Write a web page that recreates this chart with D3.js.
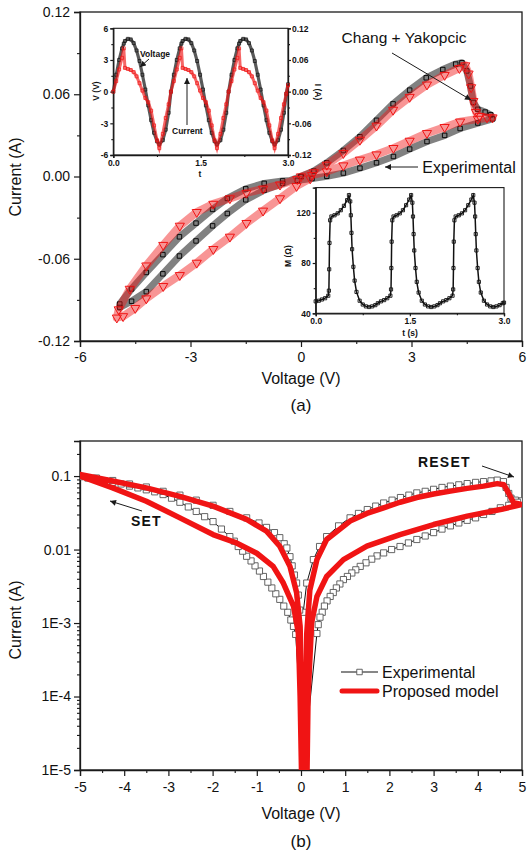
<!DOCTYPE html>
<html><head><meta charset="utf-8">
<script src="https://cdn.jsdelivr.net/npm/d3@7"></script>
<style>body{margin:0;background:#fff}svg text{font-family:"Liberation Sans",Arial,sans-serif}</style>
</head><body><svg id="c" width="530" height="852"></svg>
<script>
// ---------------- DATA ----------------
// (a) main I-V loops  [voltage V, current A]
const expLoopA = [
 [0,0],[0.35,0.004],[0.7,0.010],[1.15,0.019],[1.6,0.029],[2.05,0.041],[2.5,0.053],[2.95,0.063],[3.4,0.072],[3.85,0.078],[4.2,0.082],[4.37,0.083],
 [4.5,0.077],[4.6,0.066],[4.68,0.054],[4.8,0.049],[5.0,0.047],[5.15,0.045],[5.2,0.042],
 [4.8,0.039],[4.32,0.035],[3.9,0.030],[3.42,0.0255],[2.95,0.020],[2.51,0.0146],[2.05,0.010],[1.6,0.0061],[1.15,0.0025],[0.7,0.0002],[0.3,-0.0015],
 [-0.1,-0.0028],[-0.5,-0.0032],[-1.0,-0.005],[-1.5,-0.009],[-2.0,-0.016],[-2.4,-0.024],[-2.85,-0.034],[-3.3,-0.044],[-3.75,-0.057],[-4.2,-0.070],[-4.6,-0.082],[-4.92,-0.093],
 [-4.92,-0.0955],[-4.6,-0.091],[-4.2,-0.084],[-3.75,-0.071],[-3.3,-0.058],[-2.85,-0.047],[-2.4,-0.036],[-2.0,-0.027],[-1.5,-0.017],[-1.0,-0.010],[-0.5,-0.005],[0,0]
];
const modelLoopA = [
 [0,0],[0.35,0.003],[0.7,0.0085],[1.15,0.017],[1.6,0.0267],[2.05,0.037],[2.5,0.0486],[2.95,0.058],[3.42,0.067],[3.9,0.074],[4.3,0.079],[4.46,0.081],
 [4.55,0.075],[4.62,0.065],[4.68,0.055],[4.75,0.047],[4.85,0.044],[5.05,0.043],[5.2,0.043],
 [4.8,0.042],[4.32,0.040],[3.9,0.036],[3.42,0.0316],[2.95,0.026],[2.51,0.0207],[2.05,0.016],[1.6,0.0122],[1.15,0.008],[0.7,0.0036],[0.3,0.001],
 [-0.1,-0.002],[-0.57,-0.006],[-1.03,-0.009],[-1.48,-0.012],[-1.93,-0.016],[-2.38,-0.020],[-2.83,-0.026],[-3.29,-0.036],[-3.74,-0.050],[-4.2,-0.065],[-4.65,-0.082],[-4.95,-0.097],
 [-5.0,-0.103],[-4.83,-0.102],[-4.5,-0.096],[-4.2,-0.089],[-3.74,-0.080],[-3.29,-0.072],[-2.83,-0.063],[-2.38,-0.053],[-1.93,-0.044],[-1.48,-0.034],[-1.03,-0.025],[-0.57,-0.016],[-0.12,-0.007],[0.25,-0.0015]
];
// (a) inset 1: time (s), voltage (V), current (A)
const insetT = [0,0.05,0.1,0.15,0.18,0.2,0.25,0.3,0.35,0.4,0.45,0.5,0.55,0.6,0.65,0.7,0.75,0.79,0.85,0.9,0.95,
 0.99,1.04,1.09,1.14,1.17,1.19,1.24,1.29,1.34,1.39,1.44,1.49,1.54,1.59,1.64,1.69,1.74,1.78,1.84,1.89,1.94,
 1.98,2.03,2.08,2.13,2.16,2.18,2.23,2.28,2.33,2.38,2.43,2.48,2.53,2.58,2.63,2.68,2.73,2.77,2.83,2.88,2.93,2.97,3.0];
const insetVolt = [0,1.6,3.0,4.1,4.55,4.8,5.0,4.95,4.6,3.9,2.9,1.6,0.2,-1.3,-2.7,-3.9,-4.7,-5.0,-4.6,-3.6,-2.0,
 0,1.6,3.0,4.1,4.55,4.8,5.0,4.95,4.6,3.9,2.9,1.6,0.2,-1.3,-2.7,-3.9,-4.7,-5.0,-4.6,-3.6,-2.0,
 0,1.6,3.0,4.1,4.55,4.8,5.0,4.95,4.6,3.9,2.9,1.6,0.2,-1.3,-2.7,-3.9,-4.7,-5.0,-4.6,-3.6,-2.0,-0.2,0.7];
const insetCurr = [0,0.020,0.042,0.064,0.082,0.045,0.043,0.041,0.037,0.029,0.016,0.002,-0.012,-0.020,-0.036,-0.064,-0.092,-0.107,-0.080,-0.050,-0.024,
 0,0.020,0.042,0.064,0.082,0.045,0.043,0.041,0.037,0.029,0.016,0.002,-0.012,-0.020,-0.036,-0.064,-0.092,-0.107,-0.080,-0.050,-0.024,
 0,0.020,0.042,0.064,0.082,0.045,0.043,0.041,0.037,0.029,0.016,0.002,-0.012,-0.020,-0.036,-0.064,-0.092,-0.107,-0.080,-0.050,-0.024,-0.004,0.012];
// (a) inset 2: memristance M (Ohm) vs time
const memT = [0,0.05,0.10,0.15,0.20,0.21,0.215,0.22,0.23,0.25,0.30,0.35,0.40,0.45,0.50,0.53,0.55,0.56,0.57,0.58,0.60,0.62,0.65,0.70,0.75,0.80,0.85,0.90,0.95,
 0.99,1.04,1.09,1.14,1.19,1.20,1.205,1.21,1.22,1.24,1.29,1.34,1.39,1.44,1.49,1.52,1.54,1.55,1.56,1.57,1.59,1.61,1.64,1.69,1.74,1.79,1.84,1.89,1.94,
 1.98,2.03,2.08,2.13,2.18,2.19,2.195,2.20,2.21,2.23,2.28,2.33,2.38,2.43,2.48,2.51,2.53,2.54,2.55,2.56,2.58,2.60,2.63,2.68,2.73,2.78,2.83,2.88,2.93,2.98,3.0];
const memM = [49.5,50,51,52,54,58,75,96,114,117,118,119.5,122,125.5,130,134,129,118,104,91,77,66,57,50,47,45.5,45,45.5,46.5,
 48,49.5,50.5,52,54,59,76,97,114,117,118,119.5,122,126,130.5,134,128,117,103,90,76,65,56.5,50,47,45.5,45,45.5,46.5,
 48,49.5,50.5,52,54,59,76,97,114,117,118,119.5,122,126,130.5,134,128,117,103,90,76,65,56.5,50,47,45.5,45,45.5,46.5,48,48.5];
// (b) log-scale I-V  [voltage V, |current| A]
const expLoopB = [
 [0.05,1.4e-3],[0.13,3.5e-3],[0.28,7.3e-3],[0.42,0.011],[0.58,0.015],[0.85,0.021],[1.11,0.027],[1.3,0.031],[1.5,0.035],[1.69,0.039],[1.87,0.043],[2.06,0.047],[2.25,0.051],[2.44,0.055],[2.62,0.059],[2.81,0.062],[3.0,0.066],[3.19,0.07],[3.38,0.073],[3.57,0.076],[3.76,0.079],[3.95,0.082],[4.13,0.084],[4.3,0.086],[4.44,0.088],[4.58,0.084],[4.64,0.07],[4.7,0.058],[4.75,0.05],[4.85,0.047],[5.0,0.046],
 [4.9,0.044],[4.7,0.040],[4.51,0.037],[4.32,0.033],[4.13,0.030],[3.95,0.027],[3.76,0.025],[3.57,0.023],[3.38,0.021],[3.19,0.019],[3.0,0.017],[2.81,0.0153],[2.62,0.0137],[2.43,0.0123],[2.24,0.011],[2.05,0.010],[1.87,0.009],[1.72,0.0082],[1.6,0.0074],[1.47,0.0066],[1.34,0.0059],[1.24,0.0053],[1.15,0.0048],[1.05,0.0043],[0.96,0.0039],[0.88,0.0034],[0.8,0.003],[0.73,0.0026],[0.66,0.0023],[0.59,0.002],[0.53,0.0017],[0.48,0.0014],[0.43,0.0012],[0.39,9.5e-4],[0.36,7.2e-4],
 [0.06,1.2e-5],
 [-0.12,7e-4],[-0.17,9e-4],[-0.23,1.1e-3],[-0.3,1.4e-3],[-0.39,1.7e-3],[-0.48,2.1e-3],[-0.57,2.5e-3],[-0.66,3e-3],[-0.75,3.6e-3],[-0.85,4.3e-3],[-0.94,5.1e-3],[-1.04,6e-3],[-1.13,7e-3],[-1.23,8.1e-3],[-1.32,9.5e-3],[-1.42,0.011],[-1.51,0.013],[-1.61,0.015],[-1.8,0.019],[-1.99,0.024],[-2.18,0.028],[-2.37,0.033],[-2.55,0.038],[-2.74,0.044],[-2.93,0.050],[-3.12,0.056],[-3.31,0.061],[-3.5,0.065],[-3.69,0.069],[-3.88,0.073],[-4.07,0.078],[-4.26,0.082],[-4.45,0.086],[-4.63,0.09],[-4.82,0.094],[-5.0,0.098],
 [-4.63,0.094],[-4.26,0.087],[-3.88,0.078],[-3.5,0.071],[-3.12,0.062],[-2.74,0.055],[-2.37,0.047],[-1.99,0.040],[-1.61,0.033],[-1.23,0.027],[-0.95,0.023],[-0.78,0.020],[-0.6,0.017],[-0.48,0.0145],[-0.38,0.012],[-0.32,0.0105],[-0.25,8e-3],[-0.2,6e-3],[-0.15,4.5e-3],[-0.1,3.5e-3],[-0.06,2.4e-3],[-0.03,1.5e-3],
 [0.03,1.2e-5]
];
const modelLoopB = [
 [0.10,5e-6],[0.12,1e-4],[0.13,7.2e-4],[0.2,2.8e-3],[0.36,7.3e-3],[0.58,0.0137],[1.11,0.0244],[1.49,0.031],[1.87,0.037],[2.24,0.044],[2.62,0.051],[3.0,0.057],[3.38,0.0624],[3.76,0.068],[4.13,0.073],[4.44,0.079],[4.59,0.076],[4.7,0.058],[4.81,0.0434],[5.0,0.041],
 [4.51,0.035],[3.76,0.0285],[3.0,0.0219],[2.24,0.016],[1.49,0.0111],[0.96,0.0073],[0.58,0.0043],[0.36,0.0023],[0.24,0.001],[0.16,1e-4],[0.13,5e-6],
 [0.02,5e-6],[-0.02,1e-4],[-0.06,7.3e-4],[-0.17,1.7e-3],[-0.40,3.5e-3],[-0.63,5.9e-3],[-1.0,8.9e-3],[-1.46,0.0123],[-1.99,0.016],[-2.74,0.027],[-3.5,0.0455],[-4.26,0.069],[-5.0,0.1],
 [-5.0,0.105],[-4.26,0.0855],[-3.5,0.069],[-2.74,0.053],[-1.99,0.039],[-1.23,0.0257],[-0.78,0.0178],[-0.48,0.0111],[-0.25,0.0059],[-0.10,0.0026],[-0.02,9e-4],[0.02,1e-4],[0.05,5e-6]
];
// ticks
const xTicksA = [-6,-3,0,3,6], xMinorA = [-4.5,-1.5,1.5,4.5];
const yTicksA = [-0.12,-0.06,0,0.06,0.12], yMinorA = [-0.09,-0.03,0.03,0.09];
const in1TTicks = [0,1.5,3], in1TMinor = [0.75,2.25];
const in1VTicks = [-6,-3,0,3,6], in1VMinor = [-4.5,-1.5,1.5,4.5];
const in1ITicks = [-0.12,-0.06,0,0.06,0.12];
const in2MTicks = [40,80,120], in2MMinor = [60,100,140];
const xTicksB = [-5,-4,-3,-2,-1,0,1,2,3,4,5], xMinorB = [-4.5,-3.5,-2.5,-1.5,-0.5,0.5,1.5,2.5,3.5,4.5];
const yTicksB = [1e-5,1e-4,1e-3,0.01,0.1], yTickLabelsB = ["1E-5","1E-4","1E-3","0.01","0.1"];

// ---------------- DRAW ----------------
const svg = d3.select("#c");
const INK = "#1a1a1a", RED = "#f01414";
const defs = svg.append("defs");
defs.append("marker").attr("id","ah").attr("viewBox","0 0 10 10").attr("refX",10).attr("refY",5)
 .attr("markerWidth",7).attr("markerHeight",6).attr("orient","auto")
 .append("path").attr("d","M0,0L10,5L0,10z").attr("fill",INK);

function styleAxis(g, fs, bold){
  g.select(".domain").attr("stroke",INK).attr("stroke-width",1.3);
  g.selectAll(".tick line").attr("stroke",INK).attr("stroke-width",1.2);
  g.selectAll("text").attr("font-size",fs).attr("fill","#111")
   .attr("font-family","Liberation Sans, Arial, sans-serif").attr("font-weight",bold?"bold":"normal");
}
function minor(g){ g.select(".domain").remove(); g.selectAll(".tick line").attr("stroke",INK).attr("stroke-width",1.1); g.selectAll("text").remove(); }
function frame(x,y,r){ svg.append("rect").attr("x",x.range()[0]).attr("y",y.range()[1])
  .attr("width",x.range()[1]-x.range()[0]).attr("height",y.range()[0]-y.range()[1])
  .attr("fill","none").attr("stroke",INK).attr("stroke-width",r); }
function label(x,y,t,fs,opt={}){
  const e = svg.append("text").attr("x",x).attr("y",y).text(t).attr("font-size",fs).attr("fill","#111")
   .attr("text-anchor",opt.anchor||"middle").attr("dominant-baseline","central");
  if(opt.bold) e.attr("font-weight","bold");
  if(opt.rot) e.attr("transform",`rotate(${opt.rot},${x},${y})`);
  if(opt.ls) e.attr("letter-spacing",opt.ls);
  if(opt.family) e.attr("font-family",opt.family);
  return e;
}
function arrow(x1,y1,x2,y2){ svg.append("line").attr("x1",x1).attr("y1",y1).attr("x2",x2).attr("y2",y2)
  .attr("stroke",INK).attr("stroke-width",1).attr("marker-end","url(#ah)"); }

// ===== Panel (a) =====
const xA = d3.scaleLinear([-6,6],[80,522]);
const yA = d3.scaleLinear([-0.12,0.12],[341,12]);
frame(xA,yA,1.3);
styleAxis(svg.append("g").attr("transform","translate(0,341)").call(d3.axisBottom(xA).tickValues(xTicksA).tickSize(6).tickPadding(5).tickFormat(d=>String(d))),14);
minor(svg.append("g").attr("transform","translate(0,341)").call(d3.axisBottom(xA).tickValues(xMinorA).tickSize(3)));
styleAxis(svg.append("g").attr("transform","translate(80,0)").call(d3.axisLeft(yA).tickValues(yTicksA).tickSize(6).tickPadding(4).tickFormat(d=>d.toFixed(2))),14);
minor(svg.append("g").attr("transform","translate(80,0)").call(d3.axisLeft(yA).tickValues(yMinorA).tickSize(3)));
label(301,378,"Voltage (V)",16);
label(15,177,"Current (A)",16,{rot:-90});
label(301,405,"(a)",17,{family:"Liberation Serif, Times New Roman, serif"});

const lineA = d3.line().x(d=>xA(d[0])).y(d=>yA(d[1]));
svg.append("path").datum(expLoopA).attr("d",lineA).attr("fill","none").attr("stroke","#333").attr("stroke-width",7).attr("stroke-opacity",0.62).attr("stroke-linejoin","round");
svg.append("g").selectAll("path").data(expLoopA).join("path")
 .attr("d",d3.symbol().type(d3.symbolSquare).size(20)).attr("transform",d=>`translate(${xA(d[0])},${yA(d[1])})`)
 .attr("fill","none").attr("stroke","#000").attr("stroke-width",0.9);
svg.append("path").datum(modelLoopA).attr("d",lineA).attr("fill","none").attr("stroke",RED).attr("stroke-width",8).attr("stroke-opacity",0.45).attr("stroke-linejoin","round");
svg.append("g").selectAll("path").data(modelLoopA).join("path")
 .attr("d",d3.symbol().type(d3.symbolTriangle).size(36)).attr("transform",d=>`translate(${xA(d[0])},${yA(d[1])}) rotate(180)`)
 .attr("fill","none").attr("stroke",RED).attr("stroke-width",1);

label(404,37,"Chang + Yakopcic",15.5);
arrow(392,53,471,100);
label(469,167,"Experimental",16);
arrow(418,167,385,167);

// ----- inset 1 -----
const xI1 = d3.scaleLinear([0,3],[113.3,288]);
const yV = d3.scaleLinear([-6,6],[155,28.3]);
const yI = d3.scaleLinear([-0.12,0.12],[155,28.3]);
frame(xI1,yV,1.1);
styleAxis(svg.append("g").attr("transform","translate(0,155)").call(d3.axisBottom(xI1).tickValues(in1TTicks).tickSize(3).tickPadding(2).tickFormat(d3.format(".1f"))),8.5,true);
minor(svg.append("g").attr("transform","translate(0,155)").call(d3.axisBottom(xI1).tickValues(in1TMinor).tickSize(2)));
styleAxis(svg.append("g").attr("transform","translate(113.3,0)").call(d3.axisLeft(yV).tickValues(in1VTicks).tickSize(3).tickPadding(2).tickFormat(d=>String(d))),8.5,true);
minor(svg.append("g").attr("transform","translate(113.3,0)").call(d3.axisLeft(yV).tickValues(in1VMinor).tickSize(2)));
styleAxis(svg.append("g").attr("transform","translate(288,0)").call(d3.axisRight(yI).tickValues(in1ITicks).tickSize(3).tickPadding(1).tickFormat(d=>d.toFixed(2))),8.5,true);
minor(svg.append("g").attr("transform","translate(288,0)").call(d3.axisRight(yV).tickValues(in1VMinor).tickSize(2)));
label(96,91,"V (V)",8.5,{bold:true,rot:-90});
label(318,92,"I (A)",8.5,{bold:true,rot:90});
label(200,174,"t",8.5,{bold:true});
const vPts = insetT.map((t,i)=>[t,insetVolt[i]]);
const iPts = insetT.map((t,i)=>[t,insetCurr[i]]);
svg.append("path").datum(vPts).attr("d",d3.line().x(d=>xI1(d[0])).y(d=>yV(d[1]))).attr("fill","none").attr("stroke","#222").attr("stroke-width",3.2).attr("stroke-opacity",0.75);
svg.append("g").selectAll("path").data(vPts).join("path").attr("d",d3.symbol().type(d3.symbolSquare).size(9))
 .attr("transform",d=>`translate(${xI1(d[0])},${yV(d[1])})`).attr("fill","none").attr("stroke","#111").attr("stroke-width",0.7);
svg.append("path").datum(iPts).attr("d",d3.line().x(d=>xI1(d[0])).y(d=>yI(d[1]))).attr("fill","none").attr("stroke",RED).attr("stroke-width",3).attr("stroke-opacity",0.65);
svg.append("g").selectAll("path").data(iPts).join("path").attr("d",d3.symbol().type(d3.symbolSquare).size(9))
 .attr("transform",d=>`translate(${xI1(d[0])},${yI(d[1])})`).attr("fill","none").attr("stroke",RED).attr("stroke-width",0.7);
label(140,54,"Voltage",8.5,{bold:true,anchor:"start"});
arrow(149,59,140,67);
label(172,131,"Current",8.5,{bold:true,anchor:"start"});
arrow(187,125,187,78);

// ----- inset 2 -----
const xI2 = d3.scaleLinear([0,3],[315.7,504]);
const yM = d3.scaleLinear([40,140],[313.3,187.6]);
frame(xI2,yM,1.1);
styleAxis(svg.append("g").attr("transform","translate(0,313.3)").call(d3.axisBottom(xI2).tickValues(in1TTicks).tickSize(3).tickPadding(2).tickFormat(d3.format(".1f"))),8.5,true);
minor(svg.append("g").attr("transform","translate(0,313.3)").call(d3.axisBottom(xI2).tickValues(in1TMinor).tickSize(2)));
styleAxis(svg.append("g").attr("transform","translate(315.7,0)").call(d3.axisLeft(yM).tickValues(in2MTicks).tickSize(3).tickPadding(2).tickFormat(d=>String(d))),8.5,true);
minor(svg.append("g").attr("transform","translate(315.7,0)").call(d3.axisLeft(yM).tickValues(in2MMinor).tickSize(2)));
label(288,256,"M (Ω)",8.5,{bold:true,rot:-90});
label(410,333,"t (s)",8.5,{bold:true});
const mPts = memT.map((t,i)=>[t,memM[i]]);
svg.append("path").datum(mPts).attr("d",d3.line().x(d=>xI2(d[0])).y(d=>yM(d[1]))).attr("fill","none").attr("stroke","#111").attr("stroke-width",1.5);
svg.append("g").selectAll("path").data(mPts).join("path").attr("d",d3.symbol().type(d3.symbolSquare).size(10))
 .attr("transform",d=>`translate(${xI2(d[0])},${yM(d[1])})`).attr("fill","none").attr("stroke","#111").attr("stroke-width",0.9);

// ===== Panel (b) =====
const xB = d3.scaleLinear([-5,5],[80,522]);
const yB = d3.scaleLog([1e-5,0.3],[770,441]);
defs.append("clipPath").attr("id","clipB").append("rect").attr("x",80).attr("y",441).attr("width",442).attr("height",329);
frame(xB,yB,1.3);
styleAxis(svg.append("g").attr("transform","translate(0,770)").call(d3.axisBottom(xB).tickValues(xTicksB).tickSize(6).tickPadding(6).tickFormat(d=>String(d))),14);
minor(svg.append("g").attr("transform","translate(0,770)").call(d3.axisBottom(xB).tickValues(xMinorB).tickSize(3)));
styleAxis(svg.append("g").attr("transform","translate(80,0)").call(d3.axisLeft(yB).tickValues(yTicksB).tickSize(6).tickPadding(3).tickFormat((d,i)=>yTickLabelsB[i])),14);
minor(svg.append("g").attr("transform","translate(80,0)").call(d3.axisLeft(yB).tickValues(yB.ticks().filter(v=>!yTicksB.some(m=>Math.abs(m-v)/m<1e-6))).tickSize(3)));
label(301,813,"Voltage (V)",16);
label(15,620,"Current (A)",16,{rot:-90});
label(301,841,"(b)",17,{family:"Liberation Serif, Times New Roman, serif"});

const lineB = d3.line().x(d=>xB(d[0])).y(d=>yB(d[1]));
const pB = svg.append("g").attr("clip-path","url(#clipB)");
pB.append("path").datum(expLoopB).attr("d",lineB).attr("fill","none").attr("stroke","#111").attr("stroke-width",1);
pB.append("g").selectAll("path").data(expLoopB.filter(d=>d[1]>2e-5)).join("path")
 .attr("d",d3.symbol().type(d3.symbolSquare).size(38)).attr("transform",d=>`translate(${xB(d[0])},${yB(d[1])})`)
 .attr("fill","#fff").attr("stroke","#555").attr("stroke-width",0.9);
pB.append("path").datum(modelLoopB).attr("d",lineB).attr("fill","none").attr("stroke",RED).attr("stroke-width",5.5).attr("stroke-linejoin","round");

label(418,462,"RESET",14,{bold:true,anchor:"start",ls:1.2});
arrow(482,466,514,477);
label(131,521,"SET",14,{bold:true,anchor:"start",ls:1.2});
arrow(142,511,110,501);

// legend
svg.append("line").attr("x1",341).attr("x2",378).attr("y1",672).attr("y2",672).attr("stroke","#111").attr("stroke-width",1.2);
svg.append("path").attr("d",d3.symbol().type(d3.symbolSquare).size(30)).attr("transform","translate(359.5,672)").attr("fill","#fff").attr("stroke","#555").attr("stroke-width",0.9);
label(382,672,"Experimental",16,{anchor:"start"});
svg.append("line").attr("x1",342).attr("x2",377).attr("y1",691).attr("y2",691).attr("stroke",RED).attr("stroke-width",5).attr("stroke-linecap","round");
label(382,691,"Proposed model",16,{anchor:"start"});
</script></body></html>
